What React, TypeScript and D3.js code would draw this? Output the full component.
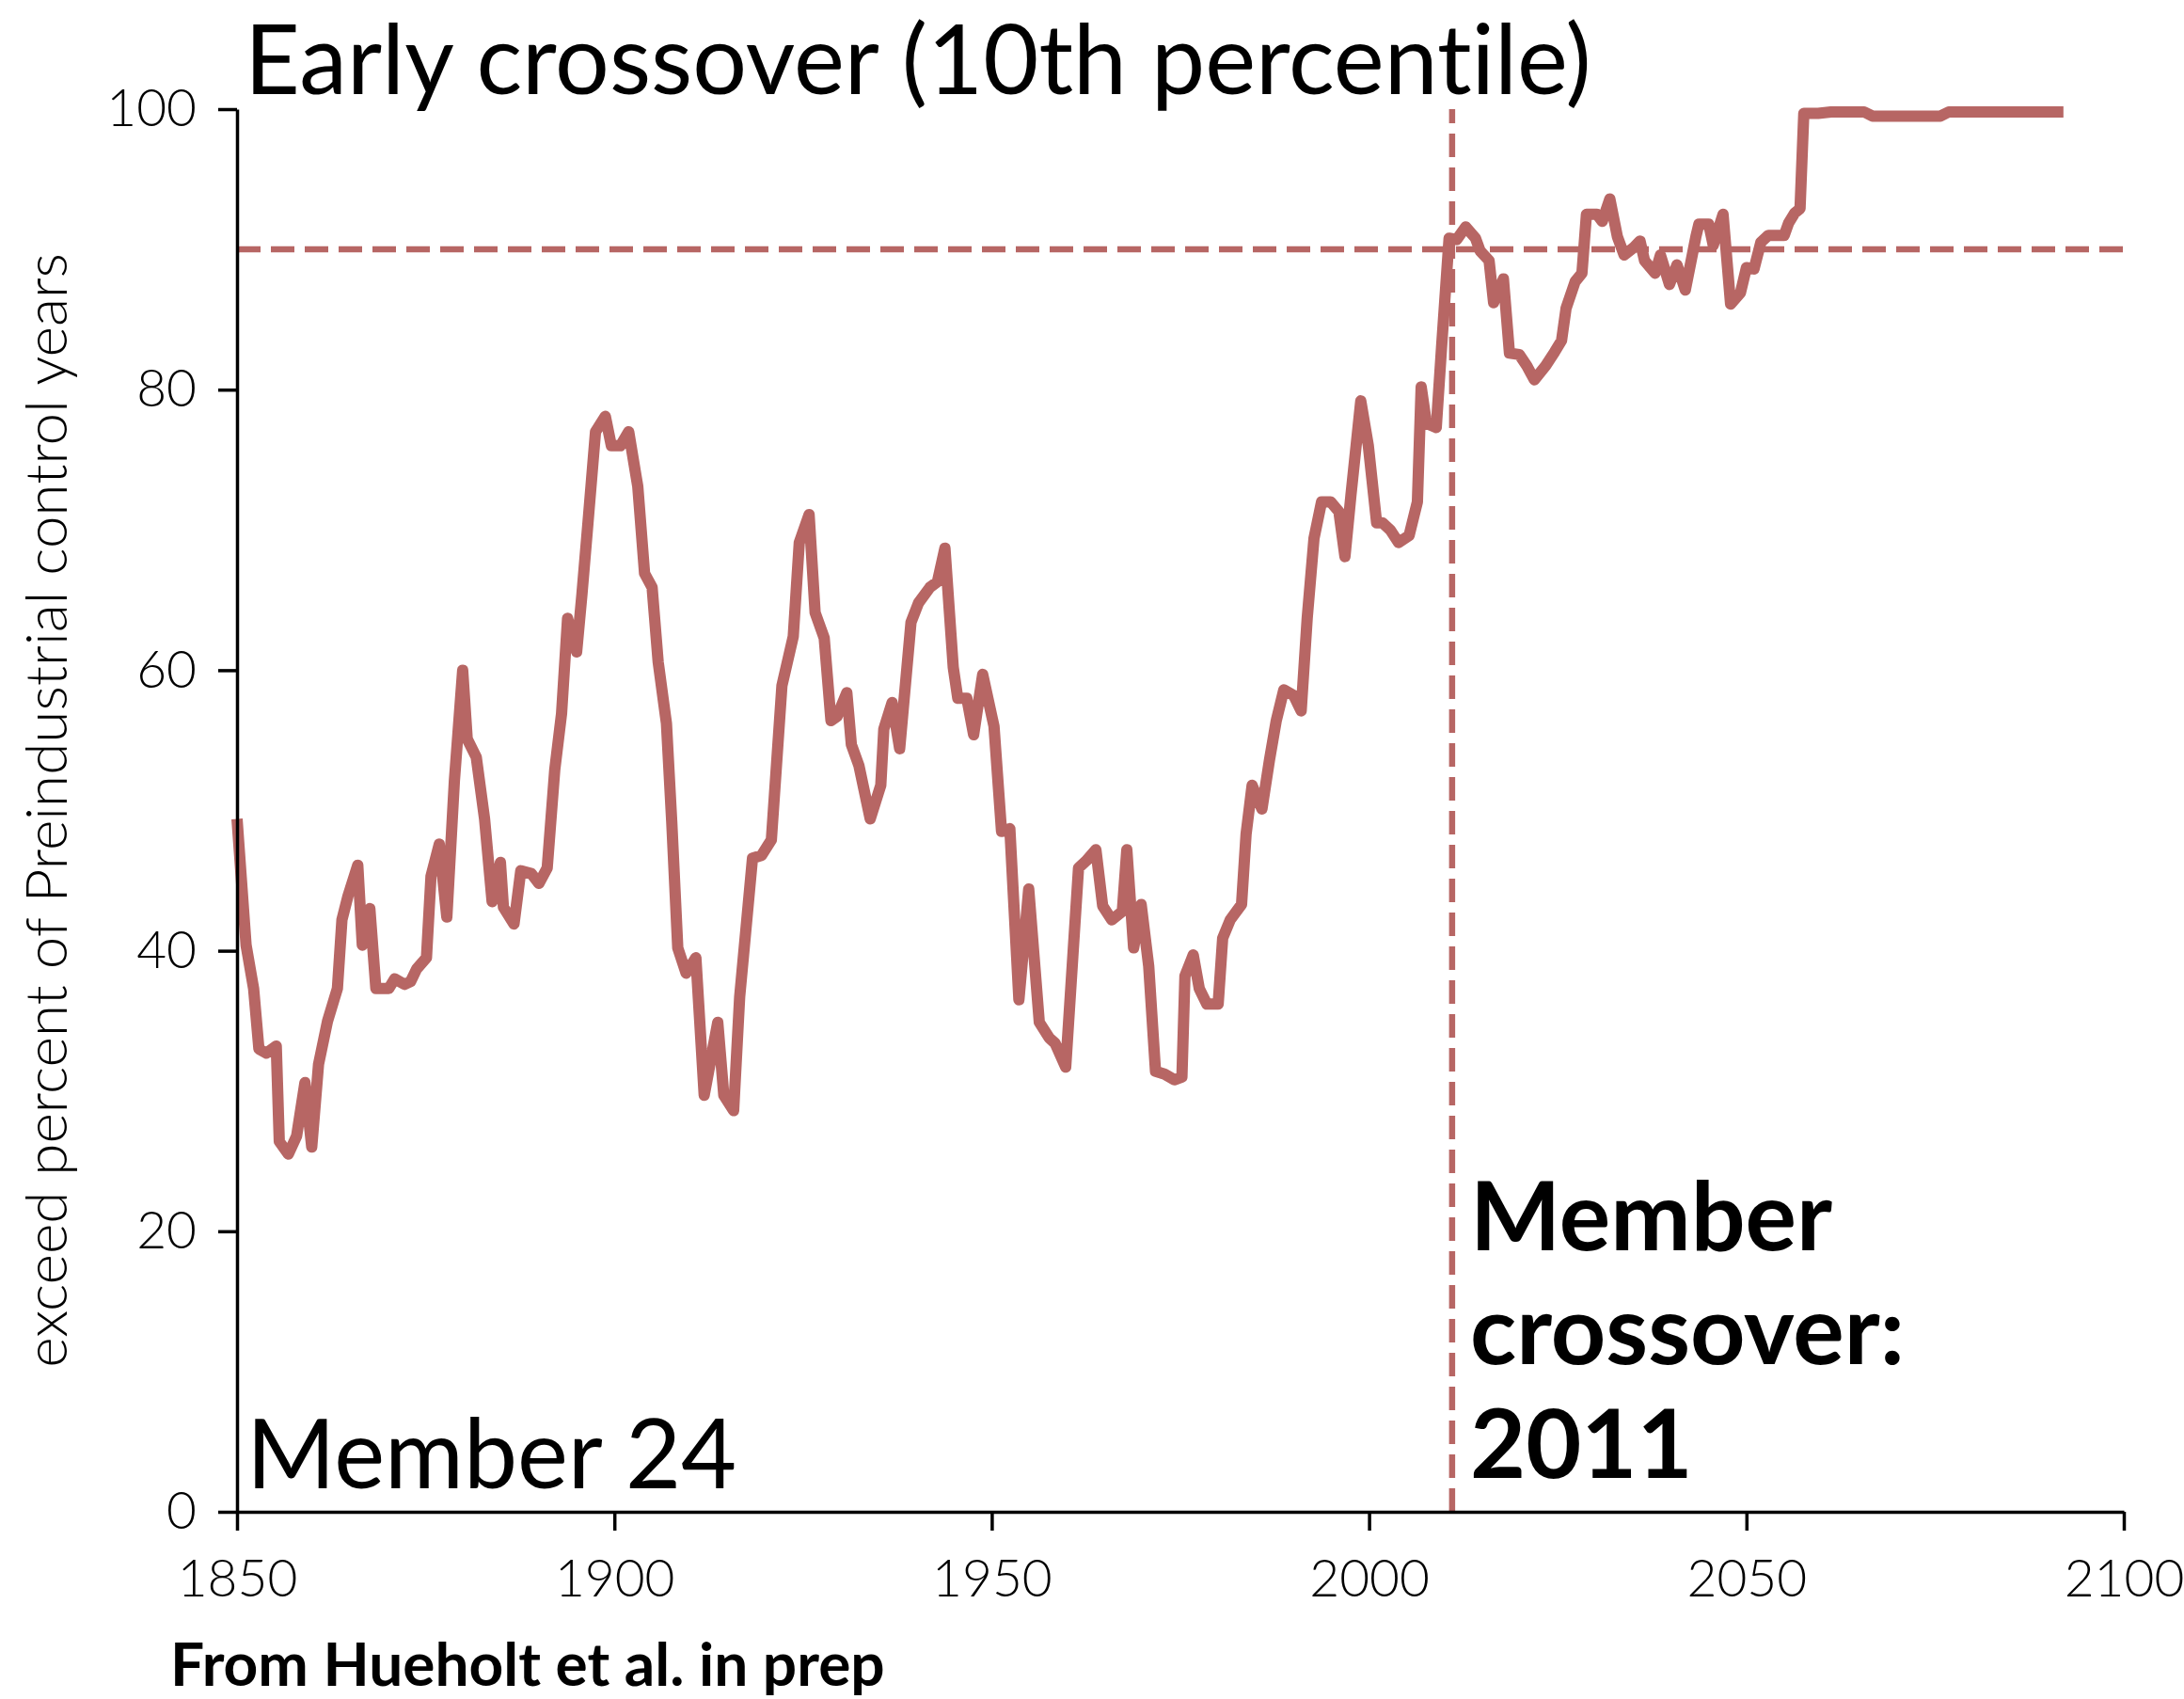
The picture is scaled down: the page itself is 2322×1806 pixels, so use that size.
import React, { useRef, useEffect } from 'react';
import * as d3 from 'd3';

// member 24 series (year, % of preindustrial control years exceeded)
const years = [
    1850.0, 1851.2, 1852.2, 1852.9, 1853.9, 1855.2, 1855.6, 1856.8, 1857.9, 1859.0,
    1859.9, 1860.8, 1862.0, 1863.3, 1863.9, 1864.7, 1866.0, 1866.6, 1867.6, 1868.4,
    1870.1, 1870.9, 1872.2, 1873.0, 1873.8, 1875.1, 1875.7, 1876.8, 1877.8, 1878.8,
    1879.9, 1880.5, 1881.7, 1882.8, 1883.8, 1884.9, 1885.3, 1886.7, 1887.6, 1889.0,
    1890.0, 1891.1, 1892.1, 1893.0, 1893.8, 1895.0, 1895.7, 1896.5, 1897.5, 1898.8,
    1899.6, 1900.8, 1901.9, 1903.1, 1904.0, 1905.0, 1905.8, 1906.9, 1907.6, 1908.4,
    1909.5, 1910.8, 1911.9, 1913.7, 1914.5, 1915.8, 1916.6, 1918.3, 1919.5, 1920.8,
    1922.2, 1923.7, 1924.5, 1925.8, 1926.6, 1927.8, 1928.7, 1929.5, 1930.8, 1931.4,
    1932.4, 1933.9, 1935.3, 1935.7, 1936.8, 1937.8, 1939.3, 1940.3, 1941.8, 1942.8,
    1943.8, 1944.9, 1945.5, 1946.7, 1947.6, 1948.8, 1950.3, 1951.3, 1952.4, 1953.6,
    1954.9, 1956.3, 1957.6, 1958.4, 1959.8, 1961.5, 1962.5, 1963.8, 1964.7, 1965.9,
    1967.3, 1967.9, 1968.8, 1969.8, 1970.8, 1971.7, 1972.9, 1974.2, 1975.2, 1975.6,
    1976.7, 1977.5, 1978.5, 1980.0, 1980.6, 1981.6, 1983.1, 1983.7, 1984.5, 1985.8,
    1986.8, 1987.7, 1988.7, 1990.0, 1991.0, 1991.8, 1992.7, 1993.7, 1994.9, 1996.0,
    1996.8, 1997.6, 1998.9, 1999.9, 2001.0, 2001.8, 2002.8, 2003.9, 2005.3, 2006.4,
    2006.9, 2007.6, 2008.9, 2009.6, 2010.6, 2011.6, 2012.8, 2014.1, 2014.7, 2015.9,
    2016.5, 2017.8, 2018.6, 2019.9, 2020.9, 2021.9, 2023.4, 2024.6, 2025.5, 2026.1,
    2027.3, 2028.2, 2028.8, 2030.2, 2030.9, 2031.9, 2032.9, 2033.8, 2035.0, 2035.9,
    2036.5, 2037.9, 2038.6, 2039.8, 2040.8, 2041.9, 2043.3, 2043.7, 2045.0, 2045.6,
    2046.9, 2047.9, 2049.2, 2050.0, 2051.0, 2051.9, 2052.9, 2055.0, 2055.6, 2056.4,
    2057.1, 2057.6, 2059.5, 2061.2, 2065.6, 2066.7, 2075.7, 2076.8, 2092.0,
];

const exceedPct = [
    49.4, 40.4, 37.3, 33.0, 32.7, 33.2, 26.4, 25.5, 26.8, 30.6,
    26.0, 31.9, 35.0, 37.3, 42.2, 43.9, 46.1, 40.4, 43.0, 37.3,
    37.3, 38.0, 37.6, 37.8, 38.7, 39.5, 45.3, 47.6, 42.4, 52.1,
    60.0, 55.1, 53.8, 49.4, 43.5, 46.3, 43.1, 41.9, 45.7, 45.5,
    44.8, 45.9, 52.9, 56.9, 63.7, 61.3, 65.4, 70.5, 77.0, 78.1,
    76.0, 76.0, 77.0, 73.1, 66.9, 65.9, 60.6, 56.2, 49.2, 40.2,
    38.4, 39.5, 29.7, 34.9, 29.7, 28.6, 36.7, 46.6, 46.8, 47.9,
    58.9, 62.4, 69.1, 71.1, 64.1, 62.3, 56.4, 56.7, 58.4, 54.7,
    53.2, 49.4, 51.8, 55.8, 57.7, 54.4, 63.4, 64.8, 65.9, 66.3,
    68.7, 60.2, 58.0, 58.0, 55.4, 59.7, 56.0, 48.5, 48.7, 36.5,
    44.4, 34.9, 33.8, 33.4, 31.7, 45.9, 46.4, 47.2, 43.2, 42.2,
    42.8, 47.2, 40.2, 43.3, 38.9, 31.4, 31.2, 30.8, 31.0, 38.2,
    39.7, 37.3, 36.2, 36.2, 40.9, 42.2, 43.3, 48.3, 51.8, 50.1,
    53.6, 56.4, 58.6, 58.2, 57.1, 63.7, 69.4, 72.0, 72.0, 71.3,
    68.1, 72.5, 79.2, 76.0, 70.5, 70.5, 70.0, 69.1, 69.6, 72.0,
    80.2, 77.6, 77.3, 83.0, 90.8, 90.7, 91.6, 90.8, 89.9, 89.2,
    86.2, 87.9, 82.6, 82.5, 81.7, 80.7, 81.7, 82.7, 83.5, 85.8,
    87.7, 88.3, 92.5, 92.5, 92.0, 93.6, 90.9, 89.6, 90.1, 90.6,
    89.2, 88.3, 89.6, 87.5, 88.9, 87.1, 90.9, 91.8, 91.8, 90.3,
    92.5, 86.1, 86.9, 88.7, 88.6, 90.5, 91.0, 91.0, 91.9, 92.6,
    92.9, 99.7, 99.7, 99.8, 99.8, 99.5, 99.5, 99.8, 99.8,
];

const xTicks = [1850, 1900, 1950, 2000, 2050, 2100];
const yTicks = [0, 20, 40, 60, 80, 100];
const THRESHOLD = 90;
const CROSSOVER_YEAR = 2011;

const WIDTH = 2322;
const HEIGHT = 1806;
const LEFT = 252;
const RIGHT = 2258;
const TOP = 116;
const BOTTOM = 1607;
const RED = '#b76664';
const FONT = 'Lato, "Open Sans", sans-serif';

const App: React.FC = () => {
    const svgRef = useRef<SVGSVGElement>(null);

    useEffect(() => {
        if (!svgRef.current) return;
        const svg = d3.select(svgRef.current);
        svg.selectAll('*').remove();

        const x = d3.scaleLinear().domain([1850, 2100]).range([LEFT, RIGHT]);
        const y = d3.scaleLinear().domain([0, 100]).range([BOTTOM, TOP]);

        // reference lines
        svg.append('line')
            .attr('x1', x(1850)).attr('x2', x(2100))
            .attr('y1', y(THRESHOLD)).attr('y2', y(THRESHOLD))
            .attr('stroke', RED).attr('stroke-width', 6.5)
            .attr('stroke-dasharray', '25 11');

        svg.append('line')
            .attr('x1', x(CROSSOVER_YEAR)).attr('x2', x(CROSSOVER_YEAR))
            .attr('y1', y(0)).attr('y2', y(100))
            .attr('stroke', RED).attr('stroke-width', 6.5)
            .attr('stroke-dasharray', '25 11');

        const line = d3.line<number>()
            .x((_, i) => x(years[i]))
            .y(d => y(d));

        svg.append('path')
            .attr('d', line(exceedPct) || '')
            .attr('fill', 'none')
            .attr('stroke', RED)
            .attr('stroke-width', 12)
            .attr('stroke-linejoin', 'round');

        const yAxis = svg.append('g')
            .attr('transform', `translate(${LEFT},0)`)
            .call(d3.axisLeft(y).tickValues(yTicks).tickSize(20).tickSizeOuter(0).tickPadding(23));

        const xAxis = svg.append('g')
            .attr('transform', `translate(0,${BOTTOM})`)
            .call(d3.axisBottom(x).tickValues(xTicks).tickFormat(d3.format('d')).tickSize(20).tickSizeOuter(0).tickPadding(31));

        [yAxis, xAxis].forEach(g => {
            g.selectAll('path, line').attr('stroke', '#000').attr('stroke-width', 3.5);
            g.selectAll('text')
                .attr('fill', '#000')
                .style('font-family', FONT)
                .style('font-weight', 300)
                .style('font-size', '55px');
        });

        svg.append('text')
            .attr('transform', `translate(71,${(TOP + BOTTOM) / 2}) rotate(-90)`)
            .attr('text-anchor', 'middle')
            .style('font-family', FONT)
            .style('font-weight', 300)
            .style('font-size', '62px')
            .text('exceed percent of Preindustrial control years');

        svg.append('text')
            .attr('x', 260).attr('y', 100)
            .style('font-family', FONT)
            .style('font-size', '102px')
            .style('font-variant-ligatures', 'none')
            .text('Early crossover (10th percentile)');

        svg.append('text')
            .attr('x', 262).attr('y', 1582)
            .style('font-family', FONT)
            .style('font-size', '102px')
            .text('Member 24');

        const note = svg.append('text')
            .attr('x', 1563)
            .style('font-family', FONT)
            .style('font-weight', 700)
            .style('font-size', '102px');
        ['Member', 'crossover:', String(CROSSOVER_YEAR)].forEach((t, i) => {
            note.append('tspan').attr('x', 1563).attr('y', 1329 + i * 121).text(t);
        });

        svg.append('text')
            .attr('x', 181).attr('y', 1792)
            .style('font-family', FONT)
            .style('font-weight', 700)
            .style('font-size', '64px')
            .text('From Hueholt et al. in prep');
    }, []);

    return (
        <svg
            ref={svgRef}
            width={WIDTH}
            height={HEIGHT}
            style={{ position: 'absolute', left: 0, top: 0, background: '#fff' }}
        />
    );
};

export default App;
